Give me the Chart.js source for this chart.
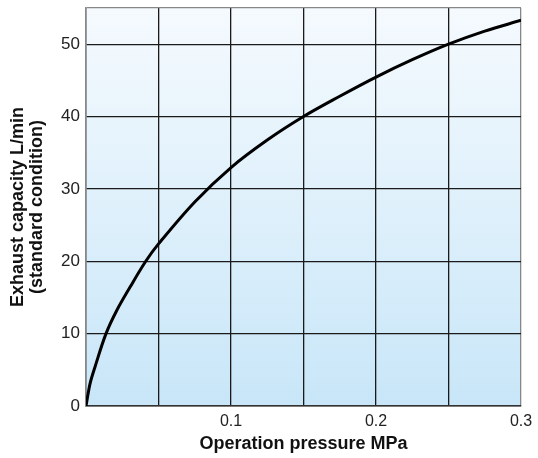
<!DOCTYPE html>
<html>
<head>
<meta charset="utf-8">
<script src="https://cdn.jsdelivr.net/npm/chart.js@4/dist/chart.umd.min.js"></script>
<style>
  html, body { margin: 0; padding: 0; background: #fff; }
  #wrap { width: 538px; height: 458px; }
</style>
</head>
<body>
<div id="wrap"><canvas id="chart" width="538" height="458"></canvas></div>
<script>
// pressure (MPa) vs exhaust capacity (L/min)
const pressure = [0, 0.0028, 0.0062, 0.0138, 0.0212, 0.0303, 0.0412, 0.05, 0.075, 0.1, 0.125, 0.15, 0.175, 0.2, 0.225, 0.25, 0.275, 0.3];
const capacity = [0, 3.1, 5.4, 10, 13.2, 16.4, 20, 22.4, 28.2, 32.95, 36.75, 40, 42.8, 45.45, 47.85, 50, 51.8, 53.3];

const xTickLabels = ["0.1", "0.2", "0.3"];

// blue gradient behind the plot area
const plotBg = {
  id: "plotBg",
  beforeDraw(chart) {
    const { ctx, chartArea: a } = chart;
    const g = ctx.createLinearGradient(0, a.top, 0, a.bottom);
    g.addColorStop(0, "#f5fafe");
    g.addColorStop(1, "#c8e6f8");
    ctx.save();
    ctx.fillStyle = g;
    ctx.fillRect(a.left, a.top, a.right - a.left, a.bottom - a.top);
    ctx.restore();
  }
};

const family = "'Liberation Sans', Arial, sans-serif";

new Chart(document.getElementById("chart"), {
  type: "line",
  data: {
    datasets: [{
      data: pressure.map((p, i) => ({ x: p, y: capacity[i] })),
      borderColor: "#000",
      borderWidth: 3,
      pointRadius: 0,
      tension: 0.35,
      fill: false
    }]
  },
  options: {
    responsive: false,
    animation: false,
    layout: { padding: { top: 8, right: 17, left: 0, bottom: 0 } },
    plugins: { legend: { display: false }, tooltip: { enabled: false } },
    scales: {
      x: {
        type: "linear",
        min: 0,
        max: 0.3,
        afterFit: (s) => { s.height = 52; s.paddingLeft = 0; s.paddingRight = 0; },
        ticks: {
          stepSize: 0.05,
          color: "#222",
          font: { family: family, size: 16 },
          padding: 6,
          maxRotation: 0,
          autoSkip: false,
          callback: (v) => {
            const t = Math.round(v * 100);
            if (t === 0 || t % 10 !== 0) return "";
            return xTickLabels[t / 10 - 1];
          }
        },
        grid: {
          color: (c) => c.tick && Math.round(c.tick.value * 100) === 30 ? "#888" : "#1a1a1a",
          lineWidth: 1.3,
          drawTicks: false
        },
        border: { color: "#333", width: 1.5 },
        title: {
          display: true,
          text: "Operation pressure MPa",
          color: "#111",
          font: { family: family, size: 18, weight: "bold", lineHeight: 1.2 },
          padding: { top: 0, bottom: 3 }
        }
      },
      y: {
        min: 0,
        max: 55,
        afterFit: (s) => { s.width = 86; s.paddingTop = 0; s.paddingBottom = 0; },
        ticks: {
          stepSize: 10,
          color: "#222",
          font: { family: family, size: 17 },
          padding: 6,
          callback: (v) => v > 50 ? "" : v
        },
        grid: {
          color: (c) => c.tick && c.tick.value > 50 ? "#888" : "#1a1a1a",
          lineWidth: 1.3,
          drawTicks: false
        },
        border: { color: "#888", width: 1.5 },
        title: {
          display: true,
          text: ["Exhaust capacity L/min", "(standard condition)"],
          color: "#111",
          font: { family: family, size: 18, weight: "bold", lineHeight: 1.05 },
          padding: { top: 9, bottom: 0 }
        }
      }
    }
  },
  plugins: [plotBg]
});
</script>
</body>
</html>
